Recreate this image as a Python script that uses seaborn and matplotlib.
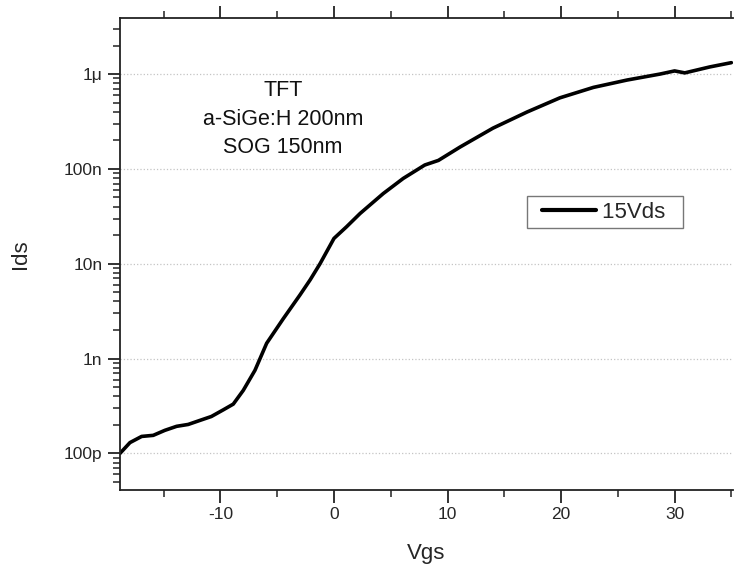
import matplotlib
matplotlib.use("Agg")
import matplotlib.pyplot as plt
import matplotlib.ticker as mticker
from matplotlib.lines import Line2D
from matplotlib.legend_handler import HandlerLine2D
import seaborn as sns
import numpy as np
import pandas as pd

# transfer curve (Vgs in V, Ids in A)
vgs = [-18.85, -17.97, -16.94, -15.92, -14.9, -13.86, -12.84, -11.8, -10.8, -9.75,
       -8.87, -7.99, -6.96, -5.93, -4.47, -3.0, -2.1, -1.23, 0.0, 1.1,
       2.3, 4.34, 6.1, 8.0, 9.2, 11.1, 14.0, 17.0, 19.9, 22.85,
       25.8, 28.7, 30.0, 30.9, 33.1, 35.0]
ids = [1.0e-10, 1.30e-10, 1.51e-10, 1.55e-10, 1.75e-10, 1.93e-10, 2.02e-10, 2.23e-10, 2.45e-10, 2.88e-10,
       3.31e-10, 4.62e-10, 7.52e-10, 1.45e-9, 2.63e-9, 4.68e-9, 6.76e-9, 1.0e-8, 1.85e-8, 2.45e-8,
       3.39e-8, 5.50e-8, 7.94e-8, 1.10e-7, 1.23e-7, 1.70e-7, 2.69e-7, 3.98e-7, 5.62e-7, 7.24e-7,
       8.65e-7, 1.0e-6, 1.08e-6, 1.03e-6, 1.19e-6, 1.32e-6]
series_name = '15Vds'
y_tick_vals = [1e-10, 1e-9, 1e-8, 1e-7, 1e-6]
y_tick_labels = ['100p', '1n', '10n', '100n', '1\u03bc']
note_lines = ['TFT', 'a-SiGe:H 200nm', 'SOG 150nm']

df = pd.DataFrame({'Vgs': vgs, 'Ids': ids, 'curve': series_name})

sns.set_style('ticks')
plt.rcParams['font.family'] = ['Liberation Sans', 'DejaVu Sans']
plt.rcParams['axes.unicode_minus'] = False

fig = plt.figure(figsize=(7.36, 5.64), dpi=100)
ax = fig.add_axes([0.163, 0.131, 0.833, 0.837])

sns.lineplot(data=df, x='Vgs', y='Ids', hue='curve', palette=['black'],
             linewidth=2.6, estimator=None, ax=ax)
ax.set_yscale('log')
ax.set_xlim(-18.85, 35.15)
ax.set_ylim(4.1e-11, 3.9e-6)

ax.yaxis.set_major_locator(mticker.FixedLocator(y_tick_vals))
ax.yaxis.set_major_formatter(mticker.FixedFormatter(y_tick_labels))
ax.yaxis.set_minor_locator(mticker.LogLocator(base=10, subs=np.arange(2, 10)))
ax.yaxis.set_minor_formatter(mticker.NullFormatter())
ax.xaxis.set_major_locator(mticker.MultipleLocator(10))
ax.xaxis.set_minor_locator(mticker.MultipleLocator(5))

ax.grid(axis='y', which='major', linestyle=':', color='#c4c4c4', linewidth=0.9)
ax.spines['right'].set_visible(False)
for s in ['left', 'bottom', 'top']:
    ax.spines[s].set_linewidth(1.3)
    ax.spines[s].set_color('#222222')
ax.tick_params(axis='x', which='both', top=True, labeltop=False, direction='out')
ax.tick_params(which='major', length=9, width=1.3, labelsize=12.5, color='#222222')
ax.tick_params(which='minor', length=5, width=1.1, color='#222222')
ax.tick_params(axis='y', which='both', right=False)

ax.set_xlabel('Vgs', fontsize=16, labelpad=15)
ax.set_ylabel('Ids', fontsize=16, labelpad=24)

for i, line in enumerate(note_lines):
    ax.text(0.266, 0.847 - i * 0.061, line, transform=ax.transAxes,
            ha='center', va='center', fontsize=15.5, color='#111111')

handles, _ = ax.get_legend_handles_labels()
leg = ax.legend(handles, [series_name + '  '], loc='upper left',
                bbox_to_anchor=(0.664, 0.623), borderaxespad=0,
                fontsize=16, handlelength=2.85, handletextpad=0.25, fancybox=False,
                frameon=True, borderpad=0.25,
                handler_map={Line2D: HandlerLine2D(xpad=0.4)})
leg.get_frame().set_edgecolor('#555555')
leg.get_frame().set_linewidth(1.0)
for h in leg.get_lines():
    h.set_linewidth(3)

fig.savefig('out.png', dpi=100)
